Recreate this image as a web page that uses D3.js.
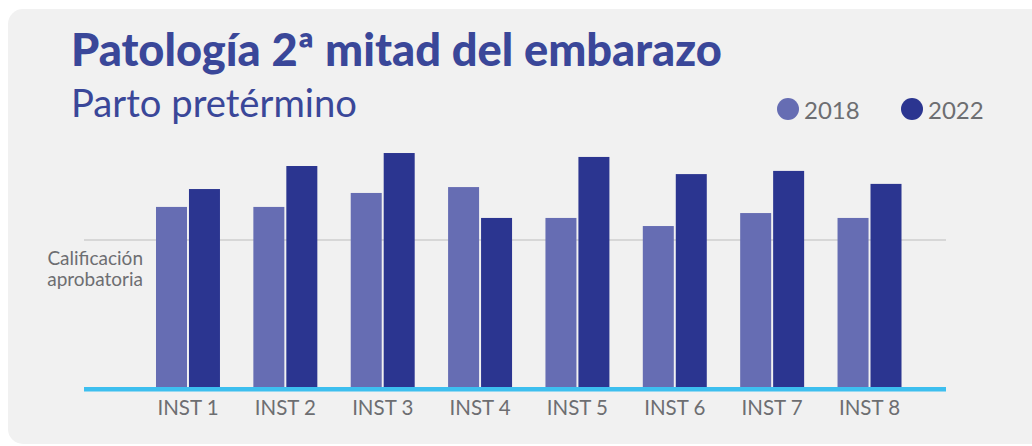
<!DOCTYPE html>
<html>
<head>
<meta charset="utf-8">
<script src="https://cdn.jsdelivr.net/npm/d3@7"></script>
<style>
    html, body { margin: 0; padding: 0; background: #ffffff; }
    svg { display: block; }
</style>
</head>
<body>
<div id="chart"></div>
<script>
// data (arbitrary score units, threshold at 60)
var categories = ["INST 1", "INST 2", "INST 3", "INST 4", "INST 5", "INST 6", "INST 7", "INST 8"];
var years = ["2018", "2022"];
var values2018 = [73.5, 73.5, 79.2, 81.6, 69.0, 65.7, 71.0, 69.0];
var values2022 = [80.8, 90.2, 95.5, 69.0, 93.9, 86.9, 88.2, 82.9];
var threshold = 60;
var thresholdLabel = ["Calificación", "aprobatoria"];
var title = "Patología 2ª mitad del embarazo";
var subtitle = "Parto pretérmino";

(function () {
    var width = 1032, height = 446;
    var colors = { "2018": "#666db3", "2022": "#2b3590" };
    var textBlue = "#3a4799", gray = "#6d6e71";

    var svg = d3.select("#chart")
        .append("svg")
        .attr("width", width)
        .attr("height", height)
        .attr("viewBox", `0 0 ${width} ${height}`);

    // panel
    svg.append("rect")
        .attr("x", 8).attr("y", 9)
        .attr("width", 1040).attr("height", 435)
        .attr("rx", 15)
        .attr("fill", "#f1f1f1");

    function fitText(sel, target) {
        var w = sel.node().getComputedTextLength();
        var fs = parseFloat(sel.attr("font-size"));
        sel.attr("font-size", fs * target / w);
    }

    var t = svg.append("text")
        .attr("x", 71).attr("y", 66)
        .attr("font-family", "Lato")
        .attr("font-weight", 900)
        .attr("font-size", 34)
        .attr("fill", textBlue)
        .text(title);
    fitText(t, 651);

    var st = svg.append("text")
        .attr("x", 71).attr("y", 117)
        .attr("font-family", "Lato")
        .attr("font-size", 32)
        .attr("fill", textBlue)
        .text(subtitle);
    fitText(st, 286);

    // scales
    var x = d3.scaleBand()
        .domain(categories)
        .range([139.3, 918.2])
        .paddingInner(0.343)
        .paddingOuter(0.343 / 2);

    var x1 = d3.scaleBand()
        .domain(years)
        .range([0, x.bandwidth()])
        .paddingInner(0.06);

    var y = d3.scaleLinear()
        .domain([0, 100])
        .range([387, 142]);

    // threshold line
    svg.append("line")
        .attr("x1", 84).attr("x2", 946)
        .attr("y1", y(threshold)).attr("y2", y(threshold))
        .attr("stroke", "#bdbdbd")
        .attr("stroke-width", 1.2);

    // two-line label, one text element per line
    svg.append("g")
        .selectAll("text")
        .data(thresholdLabel)
        .join("text")
        .attr("x", 143)
        .attr("y", (d, i) => 265 + i * 21)
        .attr("text-anchor", "end")
        .attr("font-family", "Lato")
        .attr("font-size", 19)
        .attr("fill", gray)
        .text(d => d);

    // bars
    var series = { "2018": values2018, "2022": values2022 };
    var groups = svg.append("g")
        .selectAll("g")
        .data(categories)
        .join("g")
        .attr("transform", d => "translate(" + x(d) + ",0)");

    groups.selectAll("rect")
        .data((d, i) => years.map(yr => ({ year: yr, value: series[yr][i] })))
        .join("rect")
        .attr("x", d => x1(d.year))
        .attr("width", x1.bandwidth())
        .attr("y", d => y(d.value))
        .attr("height", d => y(0) - y(d.value))
        .attr("fill", d => colors[d.year]);

    // baseline
    svg.append("rect")
        .attr("x", 84).attr("width", 862)
        .attr("y", 387).attr("height", 4.5)
        .attr("fill", "#3dbfef");

    // x axis labels
    var xAxis = svg.append("g")
        .attr("transform", "translate(0,391)")
        .call(d3.axisBottom(x).tickSize(0).tickPadding(0));
    xAxis.select(".domain").remove();
    xAxis.selectAll("text")
        .attr("dy", 0)
        .attr("y", 24)
        .attr("font-family", "Lato")
        .attr("font-size", 20.5)
        .attr("fill", gray);

    // legend
    var legend = svg.append("g")
        .selectAll("g")
        .data(years)
        .join("g")
        .attr("transform", (d, i) => "translate(" + (788 + i * 124) + ",109)");
    legend.append("circle")
        .attr("r", 11)
        .attr("fill", d => colors[d]);
    legend.append("text")
        .attr("x", 16)
        .attr("y", 10)
        .attr("font-family", "Lato")
        .attr("font-size", 24)
        .attr("fill", gray)
        .text(d => d);
})();
</script>
</body>
</html>
